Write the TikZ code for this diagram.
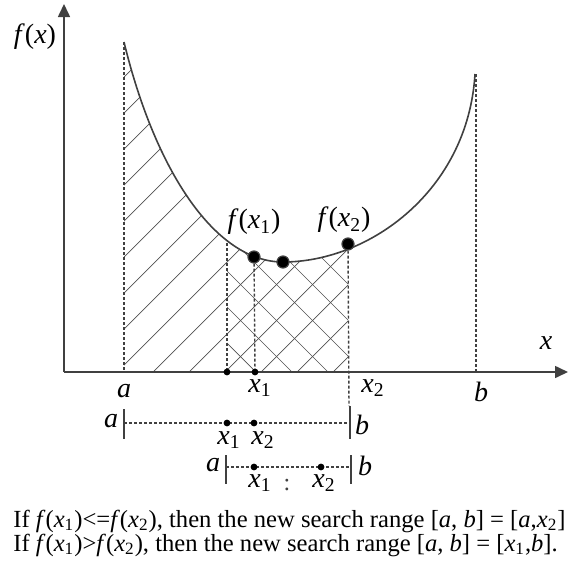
\documentclass[tikz,border=0pt]{standalone}
\usepackage{fontspec}
\setmainfont{Liberation Serif}
\usetikzlibrary{arrows.meta}
\definecolor{axisgray}{HTML}{404040}
\definecolor{hatchgray}{HTML}{505050}

\newcommand{\fof}[1]{\textit{f}(\textit{x}\textsubscript{#1})}
\newcommand{\xsub}[1]{\textit{x}\textsubscript{#1}}

\begin{document}
\begin{tikzpicture}[x=0.5pt,y=-0.5pt,font=\fontsize{14}{16}\selectfont,
  axis/.style={line width=0.8pt,axisgray,-{Triangle[length=6.5pt,width=6pt]}},
  guide/.style={line width=0.7pt,axisgray,dash pattern=on 1.5pt off 1pt},
  hatch/.style={line width=0.35pt,hatchgray},
  bar/.style={line width=0.9pt,axisgray},
  bigdot/.style={circle,fill=black,draw=axisgray,line width=0.6pt,
                 inner sep=0pt,minimum size=6pt},
  smalldot/.style={circle,fill=black,inner sep=0pt,minimum size=3.4pt},
  lbl/.style={inner sep=1pt}]

  \useasboundingbox (0,0) rectangle (568,563);

  % Curve
  \def\curve{(124,42) .. controls (155,170) and (215,262) .. (283,262)
    .. controls (370,262) and (468,190) .. (475,74)}

  % Hatching
  \begin{scope}
    \clip \curve -- (475,372) -- (124,372) -- cycle;
    \clip (124,0) rectangle (348,372);
    \foreach \k in {-11,...,5}
      \draw[hatch] ({153+36*\k},372) -- ++(400,-400);
  \end{scope}
  \begin{scope}
    \clip \curve -- (475,372) -- (124,372) -- cycle;
    \clip (227,0) rectangle (348,372);
    \foreach \k in {-3,...,6}
      \draw[hatch] ({292+36*\k},372) -- ++(-400,-400);
  \end{scope}

  % Axes
  \coordinate (O) at (64,372);
  \coordinate (ytop) at (64,4);
  \coordinate (xend) at (568,372);
  \draw[axis] (O) -- (ytop);
  \draw[axis] (O) -- (xend);

  \draw[line width=0.8pt,axisgray] \curve;

  % Guide lines
  \coordinate (atop) at (124,42);   \coordinate (abot) at (124,372);
  \coordinate (btop) at (476,74);   \coordinate (bbot) at (476,372);
  \coordinate (pbot) at (227,372);
  \coordinate (ptop) at (227,243);
  \coordinate (qbot) at (255,372);
  \coordinate (rbot) at (349,406);
  \node[bigdot] (fx1) at (254,257) {};
  \node[bigdot] (fm) at (283,262) {};
  \node[bigdot] (fx2) at (348,244) {};
  \draw[guide] (atop) -- (abot);
  \draw[guide] (btop) -- (bbot);
  \draw[guide] (ptop) -- (pbot);
  \draw[guide] (fx1) -- (qbot);
  \draw[guide] (fx2) -- (rbot);
  \node[smalldot] (d1) at (pbot) {};
  \node[smalldot] (d2) at (qbot) {};

  % Labels
  \node[lbl] (fxl) at (35,37) {\textit{f}(\textit{x})};
  \node[lbl] (xl) at (546,343) {\textit{x}};
  \node[lbl] (al) at (124,391) {\textit{a}};
  \node[lbl] (x1l) at (260,388) {\xsub{1}};
  \node[lbl] (x2l) at (373,388) {\xsub{2}};
  \node[lbl] (bl) at (481,392) {\textit{b}};
  \node[lbl] (fx1l) at (254,222) {\fof{1}};
  \node[lbl] (fx2l) at (344,220) {\fof{2}};

  % Second row
  \coordinate (s2a) at (124,423); \coordinate (s2b) at (350,423);
  \draw[bar] (124,409) -- (124,439);
  \draw[bar] (350,406) -- (350,439);
  \draw[guide] (s2a) -- (s2b);
  \node[smalldot] (s2x1) at (227,423) {};
  \node[smalldot] (s2x2) at (254,423) {};
  \node[lbl] at (111,421) {\textit{a}};
  \node[lbl] at (362,425) {\textit{b}};
  \node[lbl] at (229,440) {\xsub{1}};
  \node[lbl] at (263,440) {\xsub{2}};

  % Third row
  \coordinate (s3a) at (226,467); \coordinate (s3b) at (351,467);
  \draw[bar] (226,455) -- (226,484);
  \draw[bar] (351,455) -- (351,484);
  \draw[guide] (s3a) -- (s3b);
  \node[smalldot] (s3x1) at (254,467) {};
  \node[smalldot] (s3x2) at (321,467) {};
  \node[lbl] at (213,465) {\textit{a}};
  \node[lbl] at (365,466) {\textit{b}};
  \node[lbl] at (260,483) {\xsub{1}};
  \node[lbl] at (324,483) {\xsub{2}};
  \node[lbl,font=\fontsize{12}{13}\selectfont,text=axisgray] at (287,485) {:};

  % Rule text
  \node[anchor=west,inner sep=0pt,font=\fontsize{12.3}{14}\selectfont]
    (rule1) at (13,521) {If \fof{1}<=\fof{2}, then the new search range
    [\textit{a}, \textit{b}] = [\textit{a},\xsub{2}]};
  \node[anchor=west,inner sep=0pt,font=\fontsize{12.3}{14}\selectfont]
    (rule2) at (13,545) {If \fof{1}>\fof{2}, then the new search range
    [\textit{a}, \textit{b}] = [\xsub{1},\textit{b}].};
\end{tikzpicture}
\end{document}
